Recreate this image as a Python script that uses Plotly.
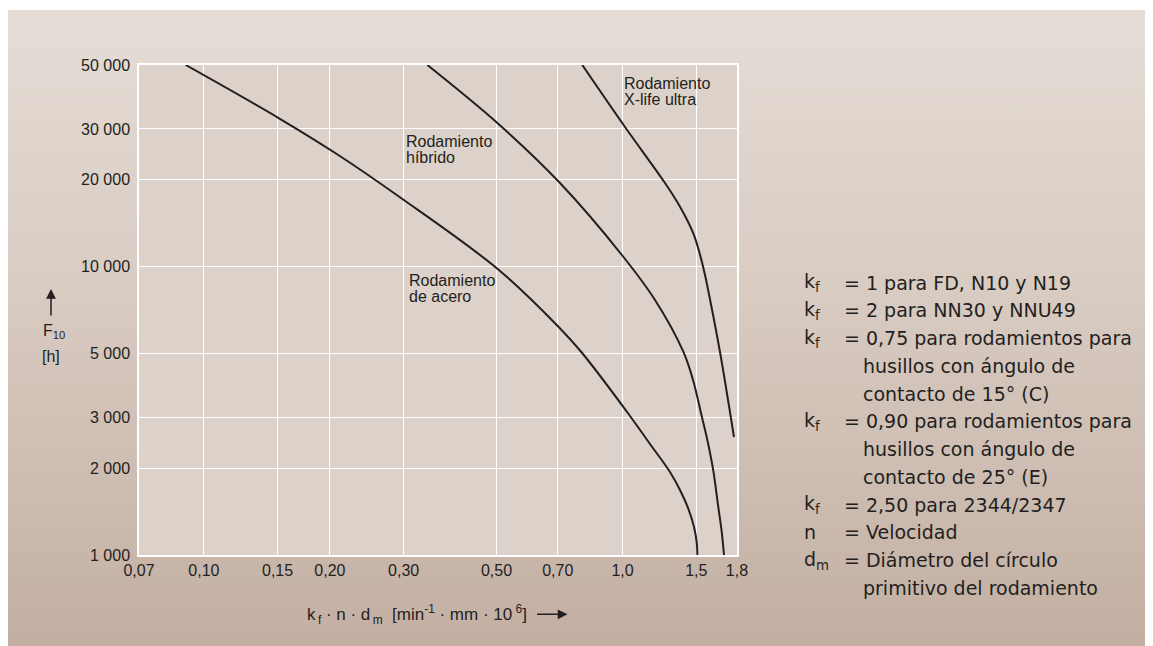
import math
import base64
import plotly.graph_objects as go

# ---------------- data ----------------
steel_x = [0.0905, 0.1512, 0.2064, 0.2957, 0.5032, 0.6962, 0.7989,
           1.0418, 1.1629, 1.2981, 1.3716, 1.4333, 1.4814, 1.504, 1.509]
steel_y = [50000, 32680, 24710, 17290, 9810, 6274, 5036,
           3034, 2426, 1940, 1680, 1456, 1250, 1100, 1000]

hybrid_x = [0.3418, 0.5032, 0.7089, 1.0008, 1.1954, 1.3968,
            1.4733, 1.5453, 1.5998, 1.6471, 1.6903, 1.7230, 1.7469]
hybrid_y = [50000, 31400, 19490, 10882, 7658, 5069,
            4045, 3034, 2446, 1960, 1491, 1221, 1000]

xlife_x = [0.8014, 1.0135, 1.2629, 1.3716, 1.4757, 1.5310, 1.5737, 1.6175, 1.7089, 1.8454]
xlife_y = [50000, 30480, 19490, 16130, 13046, 10996, 9351, 7701, 5056, 2566]

# x ticks: the right frame edge of the original, labelled "1,8", lies at ~1.876 on a true log scale
x_tick_vals = [0.07, 0.10, 0.15, 0.20, 0.30, 0.50, 0.70, 1.0, 1.5, 1.876]
x_tick_text = ["0,07", "0,10", "0,15", "0,20", "0,30", "0,50", "0,70", "1,0", "1,5", "1,8"]
y_tick_vals = [1000, 2000, 3000, 5000, 10000, 20000, 30000, 50000]
y_tick_text = ["1 000", "2 000", "3 000", "5 000", "10 000", "20 000", "30 000", "50 000"]

curve_labels = [
    ("Rodamiento", "X-life ultra"),
    ("Rodamiento", "híbrido"),
    ("Rodamiento", "de acero"),
]

legend_lines = [
    ("k<sub>f</sub>", "= 1 para FD, N10 y N19"),
    ("k<sub>f</sub>", "= 2 para NN30 y NNU49"),
    ("k<sub>f</sub>", "= 0,75 para rodamientos para"),
    ("", "husillos con ángulo de"),
    ("", "contacto de 15° (C)"),
    ("k<sub>f</sub>", "= 0,90 para rodamientos para"),
    ("", "husillos con ángulo de"),
    ("", "contacto de 25° (E)"),
    ("k<sub>f</sub>", "= 2,50 para 2344/2347"),
    ("n", "= Velocidad"),
    ("d<sub>m</sub>", "= Diámetro del círculo"),
    ("", "primitivo del rodamiento"),
]

# ---------------- layout geometry (pixels, page coordinates) ----------------
OX, OY = 8, 8                     # page body margin
W, H = 1153 - OX, 646 - OY
PL, PR, PT, PB = 139, 737, 65, 555
PW, PH = PR - PL, PB - PT


def px(xp):
    return (xp - PL) / PW


def py(yp):
    return (PB - yp) / PH


INK = "#231f20"
PLOT_BG = "#ddd2c9"
ARIAL = "Liberation Sans, Arial, sans-serif"
LEG_FONT = "DejaVu Sans, sans-serif"

fig = go.Figure()
for xs, ys in [(steel_x, steel_y), (hybrid_x, hybrid_y), (xlife_x, xlife_y)]:
    fig.add_trace(go.Scatter(x=xs, y=ys, mode="lines",
                             line=dict(color=INK, width=2, shape="spline", smoothing=1.0),
                             hoverinfo="skip", showlegend=False))

# background gradient panel
svg = ('<svg xmlns="http://www.w3.org/2000/svg" width="1145" height="636" viewBox="0 0 1145 636" '
       'preserveAspectRatio="none"><defs><linearGradient id="g" x1="0" y1="0" x2="0" y2="1">'
       '<stop offset="0" stop-color="#e5ddd6"/><stop offset="0.45" stop-color="#d8cbc2"/>'
       '<stop offset="1" stop-color="#c3afa2"/></linearGradient></defs>'
       '<rect x="0" y="0" width="1145" height="636" fill="url(#g)"/></svg>')
src = "data:image/svg+xml;base64," + base64.b64encode(svg.encode()).decode()

annotations = []
# curve labels
label_pos = [(621.5, 83.5, 99.0), (404.0, 141.5, 157.5), (406.7, 280.5, 296.5)]
for (l1, l2), (xl, y1, y2) in zip(curve_labels, label_pos):
    for t, yy in ((l1, y1), (l2, y2)):
        annotations.append(dict(x=px(xl), y=py(yy), xref="paper", yref="paper", text=t,
                                showarrow=False, xanchor="left", yanchor="middle",
                                font=dict(family=ARIAL, size=16, color=INK)))

# legend block on the right
for i, (sym, txt) in enumerate(legend_lines):
    yy = 282.5 + 27.77 * i
    if sym:
        annotations.append(dict(x=px(802.3), y=py(yy), xref="paper", yref="paper", text=sym,
                                showarrow=False, xanchor="left", yanchor="middle",
                                font=dict(family=LEG_FONT, size=19, color=INK)))
    xl = 841.7 if txt.startswith("=") else 861.0
    annotations.append(dict(x=px(xl), y=py(yy), xref="paper", yref="paper", text=txt,
                            showarrow=False, xanchor="left", yanchor="middle",
                            font=dict(family=LEG_FONT, size=19, color=INK)))

# x axis title + arrow
annotations.append(dict(x=px(305), y=py(614), xref="paper", yref="paper",
                        text="k<sub>\u2009f</sub> · n · d<sub>\u2009m</sub>\u00a0 [min<sup>-1</sup> · mm · 10<sup>\u00a06</sup>]",
                        showarrow=False, xanchor="left", yanchor="middle",
                        font=dict(family=ARIAL, size=17, color=INK)))
annotations.append(dict(x=px(567.5), y=py(614.3), xref="paper", yref="paper", text="",
                        showarrow=True, ax=-32, ay=0, arrowhead=2, arrowsize=1.3,
                        arrowwidth=1.5, arrowcolor=INK))
# y axis title + arrow
annotations.append(dict(x=px(51), y=py(289), xref="paper", yref="paper", text="",
                        showarrow=True, ax=0, ay=28, arrowhead=2, arrowsize=1.3,
                        arrowwidth=1.5, arrowcolor=INK))
annotations.append(dict(x=px(41), y=py(331), xref="paper", yref="paper",
                        text="F<sub>10</sub>", showarrow=False, xanchor="left", yanchor="middle",
                        font=dict(family=ARIAL, size=16, color=INK)))
annotations.append(dict(x=px(51.3), y=py(356.7), xref="paper", yref="paper",
                        text="[h]", showarrow=False, xanchor="center", yanchor="middle",
                        font=dict(family=ARIAL, size=16, color=INK)))

# small knock-outs in the grid behind two of the curve labels (as in the original)
knockouts = [(494.5, 501.0, 129.5, 162.0), (694.5, 701.0, 100.0, 115.0)]
shapes = [dict(type="rect", xref="paper", yref="paper", x0=0, x1=1, y0=0, y1=1,
               fillcolor=PLOT_BG, line=dict(width=0), layer="below")]
for x0, x1, y0, y1 in knockouts:
    shapes.append(dict(type="rect", xref="paper", yref="paper", x0=px(x0), x1=px(x1),
                       y0=py(y1), y1=py(y0), fillcolor=PLOT_BG, line=dict(width=0),
                       layer="between"))

fig.update_layout(
    width=W, height=H,
    margin=dict(l=PL - OX, r=W - (PR - OX), t=PT - OY, b=H - (PB - OY), pad=0),
    paper_bgcolor="white",
    plot_bgcolor="rgba(0,0,0,0)",
    showlegend=False,
    images=[dict(source=src, xref="paper", yref="paper", x=px(8), y=py(10),
                 sizex=1145 / PW, sizey=636 / PH, xanchor="left", yanchor="top",
                 sizing="stretch", layer="below")],
    shapes=shapes,
    annotations=annotations,
)
fig.update_xaxes(type="log", range=[math.log10(0.07), math.log10(0.07) + PW / 418.7],
                 tickmode="array", tickvals=x_tick_vals, ticktext=x_tick_text,
                 showgrid=True, gridcolor="white", gridwidth=1.3,
                 showline=True, linecolor="white", linewidth=1.5, mirror=True,
                 ticks="", ticklabelstandoff=0,
                 tickfont=dict(family=ARIAL, size=16, color=INK), fixedrange=True)
fig.update_yaxes(type="log", range=[3, math.log10(50000)],
                 tickmode="array", tickvals=y_tick_vals, ticktext=y_tick_text,
                 showgrid=True, gridcolor="white", gridwidth=1.3,
                 showline=True, linecolor="white", linewidth=1.5, mirror=True,
                 ticks="", ticklabelstandoff=4,
                 tickfont=dict(family=ARIAL, size=16, color=INK), fixedrange=True)

fig.write_html("out.html", config={"displayModeBar": False})
